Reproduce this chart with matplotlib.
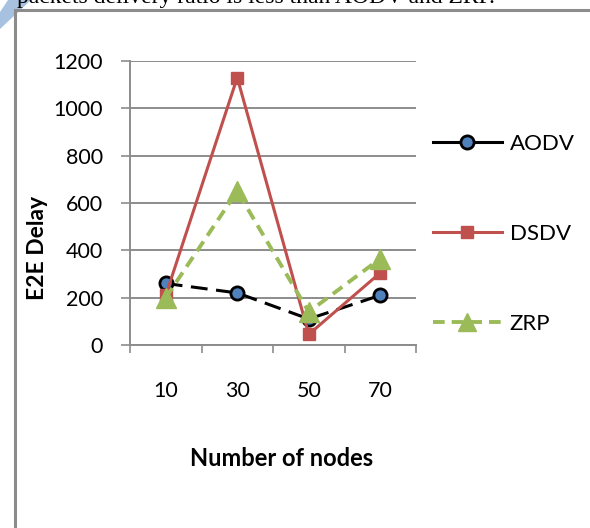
import matplotlib
matplotlib.use("Agg")
import matplotlib.pyplot as plt
from matplotlib.lines import Line2D
from matplotlib.patches import Polygon
import numpy as np

plt.rcParams["font.family"] = ["Lato", "DejaVu Sans"]

nodes = ['10', '30', '50', '70']
aodv = [260, 220, 110, 210]
dsdv = [210, 1130, 45, 305]
zrp = [200, 650, 140, 365]

W, H = 590, 528
fig = plt.figure(figsize=(W / 100, H / 100), dpi=100)

def fx(px):
    return px / W

def fy(py):
    return 1 - py / H

# frame of the embedded chart + cut off text line above it
fig.add_artist(Line2D([fx(15), fx(15)], [fy(10), fy(540)], color='#8c8c8c', lw=2.2))
fig.add_artist(Line2D([fx(15), fx(600)], [fy(10), fy(10)], color='#8c8c8c', lw=2.2))
fig.text(fx(17), fy(3.5), 'packets delivery ratio is less than AODV and ZRP.',
         family=['Liberation Serif'], fontsize=17, va='baseline', ha='left')
fig.add_artist(Polygon([[fx(8), fy(0)], [fx(31), fy(0)], [fx(0), fy(29)], [fx(0), fy(12)]],
                       closed=True, facecolor='#a7c1e1', edgecolor='none', transform=fig.transFigure))

ax = fig.add_axes([fx(130), fy(345), fx(416) - fx(130), fy(61) - fy(345)])
x = np.arange(len(nodes))

ax.plot(x, aodv, color='black', lw=2.2, dashes=(5.5, 2.8), marker='o', markersize=9.5,
        markerfacecolor='#4f81bd', markeredgecolor='black', markeredgewidth=2, zorder=3)
ax.plot(x, dsdv, color='#c0504d', lw=2.2, marker='s', markersize=8.5,
        markerfacecolor='#c0504d', markeredgecolor='#c0504d', zorder=4)
ax.plot(x, zrp, color='#9bbb59', lw=2.8, dashes=(3, 1.8), marker='^', markersize=14,
        markerfacecolor='#9bbb59', markeredgecolor='#9bbb59', zorder=5)

ax.set_xlim(-0.5, len(nodes) - 0.5)
ax.set_ylim(0, 1200)
ax.set_yticks(np.arange(0, 1201, 200))
ax.set_xticks(np.arange(-0.5, len(nodes), 1.0))
ax.set_xticklabels([])
ax.set_xticks(x, minor=True)
ax.set_xticklabels(nodes, minor=True)

ax.grid(axis='y', color='#8c8c8c', lw=1.4)
ax.set_axisbelow(True)
for s in ['top', 'right']:
    ax.spines[s].set_visible(False)
for s in ['left', 'bottom']:
    ax.spines[s].set_color('#8c8c8c')
    ax.spines[s].set_linewidth(1.4)

ax.tick_params(axis='y', which='major', length=6.5, width=1.2, color='#8c8c8c',
               pad=13, labelsize=15.5)
ax.tick_params(axis='x', which='major', length=6, width=1.2, color='#8c8c8c')
ax.tick_params(axis='x', which='minor', length=0, pad=26, labelsize=15.5)

fig.text(fx(282), fy(459), 'Number of nodes', fontsize=17, fontweight='bold',
         ha='center', va='center')
fig.text(fx(37), fy(248), 'E2E Delay', fontsize=16.5, fontweight='bold',
         ha='center', va='center', rotation=90)

handles = [
    Line2D([], [], color='black', lw=2.2, marker='o', markersize=9.5,
           markerfacecolor='#4f81bd', markeredgecolor='black', markeredgewidth=2),
    Line2D([], [], color='#c0504d', lw=2.2, marker='s', markersize=8.5,
           markerfacecolor='#c0504d', markeredgecolor='#c0504d'),
    Line2D([], [], color='#9bbb59', lw=2.8, dashes=(3, 1.8), marker='^', markersize=13,
           markerfacecolor='#9bbb59', markeredgecolor='#9bbb59'),
]
fig.legend(handles, ['AODV', 'DSDV', 'ZRP'], loc='upper left',
           bbox_to_anchor=(fx(433), fy(134)), frameon=False, fontsize=16,
           handlelength=3.1, handletextpad=0.36, labelspacing=3.15, borderpad=0,
           borderaxespad=0)

fig.savefig('out.png', dpi=100)
